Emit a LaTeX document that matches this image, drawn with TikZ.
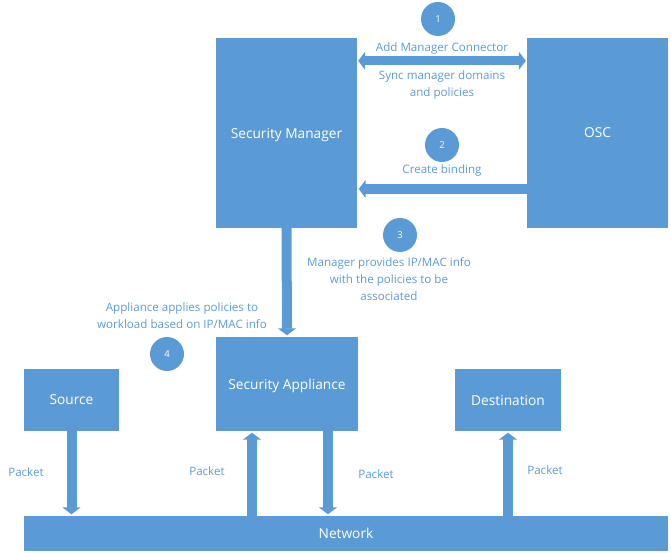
\documentclass[tikz,border=0pt]{standalone}
\usepackage{fontspec}
\setmainfont{Open Sans}
\usetikzlibrary{arrows.meta}
\definecolor{boxblue}{HTML}{5B9BD5}
\definecolor{lblblue}{HTML}{5B9BD5}
\tikzset{
  box/.style={fill=boxblue, draw=none, text=white, font=\fontsize{13.7}{16}\selectfont, inner sep=0pt, text depth=0pt, anchor=center},
  num/.style={circle, fill=boxblue, draw=none, text=white, minimum size=34pt, inner sep=0pt, font=\fontsize{9.5}{10}\selectfont},
  lbl/.style={text=lblblue, align=center, inner sep=0pt, font=\fontsize{11.6}{16.8}\selectfont},
  blk/.style={draw=boxblue, line width=10pt, -{Triangle[width=18pt,length=7pt]}, shorten >=1.5pt},
  dblk/.style={draw=boxblue, line width=9pt, {Triangle[width=18pt,length=7pt]}-{Triangle[width=18pt,length=7pt]}, shorten >=1pt, shorten <=1pt}
}
\begin{document}
\begin{tikzpicture}[x=1pt,y=-1pt]
\useasboundingbox (0,0) rectangle (671,553);
% boxes
\node[box, minimum width=141pt, minimum height=190pt] (mgr) at (286.5,133) {Security Manager};
\node[box, minimum width=141pt, minimum height=190pt] (osc) at (597.5,133) {OSC};
\node[box, minimum width=142pt, minimum height=94pt] (app) at (287,384) {Security Appliance};
\node[box, minimum width=95pt, minimum height=62pt] (src) at (71.5,400) {Source};
\node[box, minimum width=106pt, minimum height=62pt] (dst) at (508,400) {Destination};
\node[box, minimum width=644pt, minimum height=35pt] (net) at (346,533.5) {Network};
% numbered circles
\node[num] (n1) at (438,19) {1};
\node[num] (n2) at (442,145) {2};
\node[num] (n3) at (400,235) {3};
\node[num] (n4) at (167,354) {4};
% labels
\node[lbl] (l1) at (442,48) {Add Manager Connector};
\node[lbl] (l1b) at (442,85) {Sync manager domains\\and policies};
\node[lbl] (l2) at (442,170) {Create binding};
\node[lbl] (l3) at (389,279) {Manager provides IP/MAC info\\with the policies to be\\associated};
\node[lbl] (l4) at (182,316) {Appliance applies policies to\\workload based on IP/MAC info};
\node[lbl] (p1) at (26,472) {Packet};
\node[lbl] (p2) at (207,471) {Packet};
\node[lbl] (p3) at (376,474) {Packet};
\node[lbl] (p4) at (545,470) {Packet};
% arrows
\draw[dblk] ([yshift=-23pt]mgr.north east) -- ([yshift=-23pt]osc.north west);
\draw[blk] ([yshift=-56pt]osc.west) -- ([yshift=-56pt]mgr.east);
\draw[blk] (mgr.south) -- (app.north);
\draw[blk] (src.south) -- (src.south |- net.north);
\draw[blk] ([xshift=-35pt]app.south |- net.north) -- ([xshift=-35pt]app.south);
\draw[blk] ([xshift=41pt]app.south) -- ([xshift=41pt]app.south |- net.north);
\draw[blk] (dst.south |- net.north) -- (dst.south);
\end{tikzpicture}
\end{document}
